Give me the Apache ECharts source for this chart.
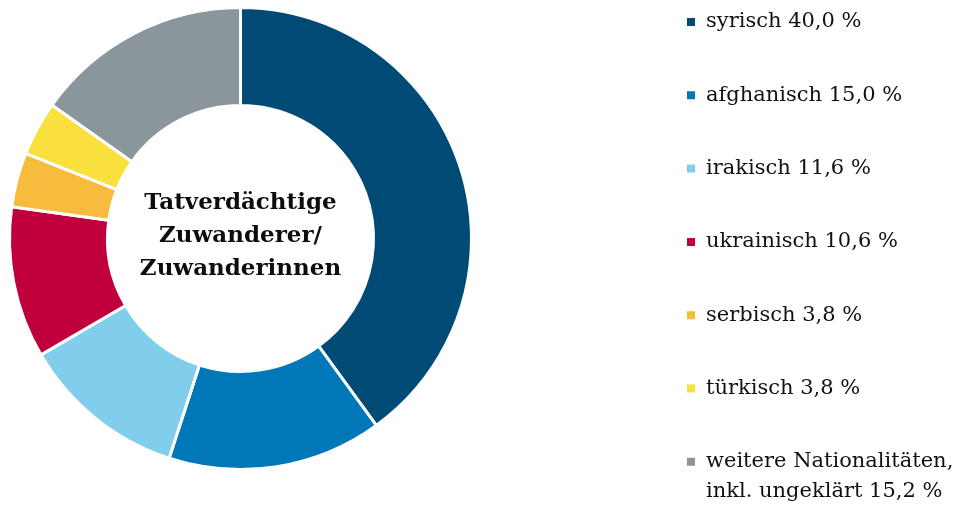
<!DOCTYPE html>
<html>
<head>
<meta charset="utf-8">
<script src="https://cdn.jsdelivr.net/npm/echarts@6/dist/echarts.min.js"></script>
<style>
  html, body { margin: 0; padding: 0; background: #ffffff; }
  #chart { width: 972px; height: 505px; }
</style>
</head>
<body>
<div id="chart"></div>
<script>
// Nationalitäten der tatverdächtigen Zuwanderer/Zuwanderinnen (Anteile in %)
const categories = [
  'syrisch',
  'afghanisch',
  'irakisch',
  'ukrainisch',
  'serbisch',
  'türkisch',
  'weitere Nationalitäten,\ninkl. ungeklärt'
];
const shares = [40.0, 15.0, 11.6, 10.6, 3.8, 3.8, 15.2];
const colors = ['#004b76', '#0077b6', '#80cdec', '#c0003c', '#f7bb3d', '#f9e03c', '#8a959c'];
const centerTitle = 'Tatverdächtige\nZuwanderer/\nZuwanderinnen';

const fmt = v => v.toFixed(1).replace('.', ',') + ' %';
const shareByName = {};
categories.forEach((c, i) => { shareByName[c] = shares[i]; });

// Every legend label is a three-line block (blank line above, text, second line or blank),
// so the first text line always sits level with its marker and all blocks are equally tall.
const legendLabel = name => {
  const text = name + ' ' + fmt(shareByName[name]);
  const lines = text.split('\n');
  return '\n' + lines[0] + '\n' + (lines[1] || '');
};

const chart = echarts.init(document.getElementById('chart'), null, { renderer: 'canvas' });

chart.setOption({
  backgroundColor: '#ffffff',
  animation: false,
  title: {
    text: centerTitle,
    left: 240.5,
    top: 187,
    textAlign: 'center',
    padding: 0,
    textStyle: {
      fontFamily: 'DejaVu Serif',
      fontWeight: 'bold',
      fontSize: 23,
      lineHeight: 33,
      color: '#0d0d0d'
    }
  },
  legend: {
    orient: 'vertical',
    left: 685,
    top: -23,
    height: 800,
    padding: 0,
    icon: 'rect',
    itemWidth: 10,
    itemHeight: 10,
    itemGap: -16.7,
    selectedMode: false,
    textStyle: {
      fontFamily: 'DejaVu Serif',
      fontSize: 21,
      lineHeight: 30,
      color: '#111111',
      padding: [0, 0, 0, 5]
    },
    data: categories,
    formatter: legendLabel
  },
  series: [{
    type: 'pie',
    center: [240.5, 238.5],
    radius: [133, 231],
    startAngle: 90,
    clockwise: true,
    avoidLabelOverlap: false,
    label: { show: false },
    labelLine: { show: false },
    emphasis: { disabled: true },
    itemStyle: { borderColor: '#ffffff', borderWidth: 3 },
    data: categories.map((c, i) => ({
      name: c,
      value: shares[i],
      itemStyle: { color: colors[i] }
    }))
  }]
});
</script>
</body>
</html>
